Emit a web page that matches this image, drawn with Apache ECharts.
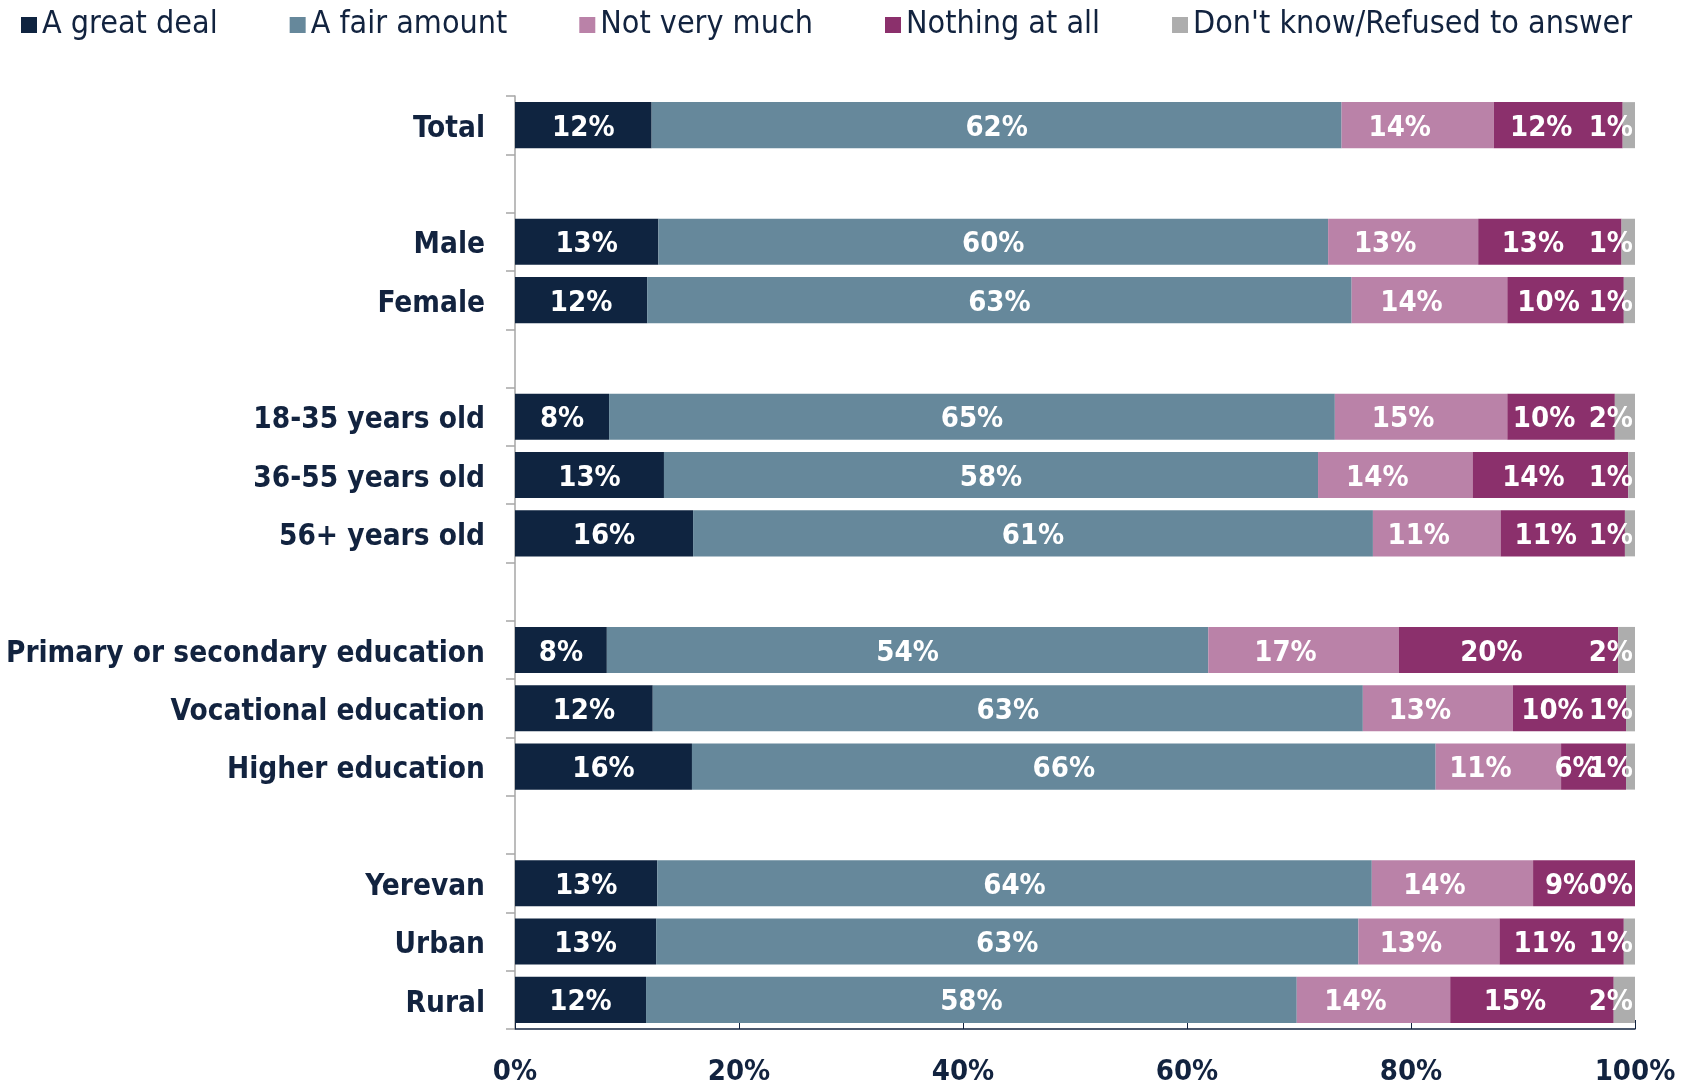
<!DOCTYPE html>
<html>
<head>
<meta charset="utf-8">
<script src="https://cdn.jsdelivr.net/npm/echarts@6/dist/echarts.min.js"></script>
<style>
  html, body { margin: 0; padding: 0; background: #fff; }
  #chart { width: 1692px; height: 1085px; }
</style>
</head>
<body>
<div id="chart"></div>
<script>
var myChart = echarts.init(document.getElementById('chart'));

// rows, empty strings are the spacer rows between groups
var groups = ['Total', '', 'Male', 'Female', '', '18-35 years old', '36-55 years old', '56+ years old', '',
    'Primary or secondary education', 'Vocational education', 'Higher education', '',
    'Yerevan', 'Urban', 'Rural'];

var greatDeal   = [12.2, '-', 12.8, 11.8, '-', 8.4, 13.3, 15.9, '-', 8.2, 12.3, 15.8, '-', 12.7, 12.6, 11.7];
var fairAmount  = [61.6, '-', 59.8, 62.9, '-', 64.8, 58.4, 60.7, '-', 53.7, 63.4, 66.4, '-', 63.8, 62.7, 58.1];
var notMuch     = [13.6, '-', 13.4, 13.9, '-', 15.4, 13.8, 11.4, '-', 17.0, 13.4, 11.2, '-', 14.4, 12.6, 13.7];
var nothingAll  = [11.5, '-', 12.8, 10.4, '-', 9.6, 13.9, 11.1, '-', 19.6, 10.1, 5.8, '-', 9.1, 11.1, 14.6];
var dontKnow    = [1.1, '-', 1.2, 1.0, '-', 1.8, 0.6, 0.9, '-', 1.5, 0.8, 0.8, '-', 0, 1.0, 1.9];

var xTicks = [0, 20, 40, 60, 80, 100];

var names = ['A great deal', 'A fair amount', 'Not very much', 'Nothing at all', "Don't know/Refused to answer"];
var colors = ['#0f2440', '#66889b', '#ba82a8', '#8b306c', '#adadad'];
var values = [greatDeal, fairAmount, notMuch, nothingAll, dontKnow];
// labels of the pink and purple parts sit a bit left of centre in the original
var labelShift = [0, 0, -18, -17, 0];

var font = '"DejaVu Sans Condensed", "DejaVu Sans", sans-serif';
var navy = '#12233f';

var series = [];
for (var i = 0; i < names.length; i++) {
    series.push({
        name: names[i],
        type: 'bar',
        stack: 'all',
        barCategoryGap: '21%',
        data: values[i],
        itemStyle: { color: colors[i] },
        label: {
            show: true,
            position: i == 4 ? 'insideRight' : 'inside',
            distance: 2,
            offset: [labelShift[i], 3],
            color: '#fff',
            fontFamily: font,
            fontWeight: 'bold',
            fontSize: 29,
            formatter: function (p) {
                if (p.value === '-' || p.value == null) return '';
                return Math.round(p.value) + '%';
            }
        }
    });
}

option = {
    backgroundColor: '#fff',
    color: colors,
    legend: {
        data: names,
        left: 16,
        top: 4,
        icon: 'rect',
        itemWidth: 16,
        itemHeight: 16,
        itemGap: 72,
        textStyle: {
            color: navy,
            fontFamily: font,
            fontSize: 32
        }
    },
    grid: {
        left: 515,
        right: 57,
        top: 96,
        bottom: 56,
        outerBoundsMode: 'none'
    },
    xAxis: {
        type: 'value',
        min: xTicks[0],
        max: xTicks[xTicks.length - 1],
        interval: 20,
        splitLine: { show: false },
        axisLine: { show: true, lineStyle: { color: navy, width: 1.5 } },
        axisTick: { show: true, inside: true, length: 9, lineStyle: { color: navy } },
        axisLabel: {
            formatter: '{value}%',
            color: navy,
            fontFamily: font,
            fontWeight: 'bold',
            fontSize: 29,
            margin: 29
        }
    },
    yAxis: {
        type: 'category',
        inverse: true,
        data: groups,
        axisLine: { show: true, lineStyle: { color: '#a6a6a6', width: 1.5 } },
        axisTick: { show: true, length: 9, interval: 0, lineStyle: { color: '#a6a6a6', width: 1.5 } },
        axisLabel: {
            interval: 0,
            margin: 30,
            formatter: function (v) { return v ? '{a|' + v + '}' : ''; },
            rich: {
                a: {
                    color: navy,
                    fontFamily: font,
                    fontWeight: 'bold',
                    fontSize: 29.5,
                    padding: [8, 0, 0, 0]
                }
            }
        }
    },
    series: series
};

myChart.setOption(option);
</script>
</body>
</html>
